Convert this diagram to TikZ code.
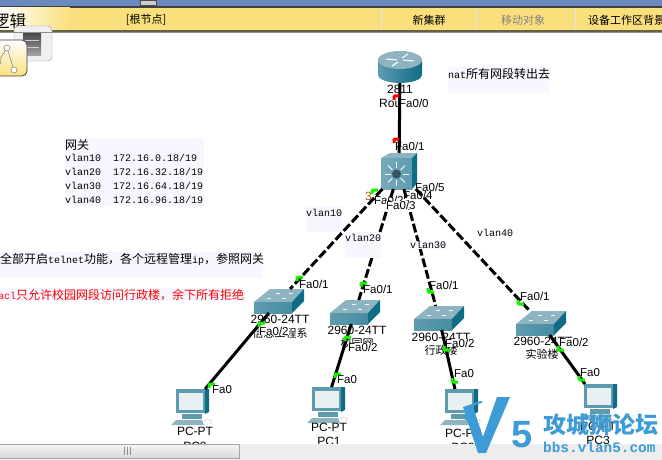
\documentclass[tikz,border=0pt]{standalone}
\usepackage{fontspec}
\setmainfont{Liberation Sans}
\setmonofont{Liberation Mono}
\newfontfamily\cjk{Noto Sans CJK SC}
\usetikzlibrary{arrows.meta,calc}
\definecolor{notebg}{HTML}{F7F8FF}
\definecolor{barblue}{HTML}{6A8ABF}
\definecolor{baryellow}{HTML}{FAE07C}
\definecolor{ciscotop}{HTML}{8DB4C0}
\definecolor{ciscofront}{HTML}{5F9BAF}
\definecolor{ciscoside}{HTML}{0F6C85}
\definecolor{markgreen}{HTML}{19F000}
\definecolor{wmblue}{HTML}{3D9BD6}
\tikzset{
  devbox/.style={inner sep=0,outer sep=0,minimum width=#1},
  note/.style={anchor=west,inner sep=0,font=\ttfamily\fontsize{10}{10}\selectfont},
  portlabel/.style={anchor=west,inner sep=0,font=\fontsize{11.5}{12}\selectfont},
  devlabel/.style={inner sep=0,font=\fontsize{12}{12}\selectfont},
  namelabel/.style={inner sep=0,font=\cjk\fontsize{11}{12}\selectfont},
  barlabel/.style={inner sep=0,font=\cjk\fontsize{11}{12}\selectfont},
  trunk/.style={line width=3pt,dash pattern=on 9pt off 3pt},
  access/.style={line width=3pt},
  portmark/.style={line width=3pt,rounded corners=1pt}
}
\newcommand{\zh}[1]{{\cjk\fontsize{12}{12}\selectfont #1}}
\newcommand{\qc}{\char"FF0C\relax}
\begin{document}
\begin{tikzpicture}[x=1pt,y=-1pt]
\clip (0,0) rectangle (662,460);
\fill[white] (0,0) rectangle (662,460);
% top bar
\fill[barblue] (0,0) rectangle (662,6);
\fill[black!75] (0,6) rectangle (662,8);
\fill[baryellow] (70,8) rectangle (662,31);
\shade[left color=white,right color=baryellow] (0,8) rectangle (70,31);
\fill[black!70!yellow] (0,30) rectangle (662,32);
\fill[black!45] (0,32) rectangle (662,33.5);
\draw[white!90!black,line width=1pt] (381,8)--(381,30) (476,8)--(476,30) (575,8)--(575,30);
\draw[black!70,fill=white!80!black] (140,0) rectangle (156,5);
\node[inner sep=0,anchor=west,font=\cjk\fontsize{16.5}{16}\selectfont] (title) at (-7,21) {逻辑};
\node[barlabel] (rootnode) at (146,20) {[根节点]};
\node[barlabel] (newcluster) at (429,20) {新集群};
\node[barlabel,text=black!50] (moveobj) at (523,20) {移动对象};
\node[barlabel,anchor=west] (background) at (588,20) {设备工作区背景};
% left icons
\draw[black!40,fill=black!6,rounded corners=4pt] (14,26) -- (52,26) -- (52,61) -- (14,61) -- cycle;
\fill[black!45] (14,32) rectangle (52,33.5);
\shade[top color=black!70,bottom color=black!35] (23,34) rectangle (41,56);
\draw[black!20] (25,40)--(39,40) (25,47)--(39,47);
\shade[draw=black!75,line width=.8pt,rounded corners=5pt,top color=white,bottom color=baryellow] (-8,40) rectangle (27,76);
\draw[black!60] (7,48)--(-2,62) (7,48)--(14,70);
\foreach \x/\y in {7/48,-2/62,14/70}
  \draw[black!60,fill=white] (\x,\y) circle (3);
% notes
\fill[notebg] (448,67) rectangle (549,93);
\node[note] (natnote) at (448,74) {nat\zh{所有网段转出去}};
\fill[notebg] (65,138) rectangle (204,206);
\node[note] (gwhead) at (65,145) {\zh{网关}};
\foreach \n/\a/\y in {10/0/158,20/32/172,30/64/186,40/96/200}
  \node[note] (gw\n) at (65,\y) {vlan\n\ \ 172.16.\a.18/19};
\fill[notebg] (0,252) rectangle (263,278);
\node[note] (telnetnote) at (0,259) {\zh{全部开启}telnet\zh{功能\qc 各个远程管理}ip\zh{\qc 参照网关}};
\fill[notebg] (0,288) rectangle (246,301);
\node[note,text=red] (aclnote) at (-2,295) {acl\zh{只允许校园网段访问行政楼\qc 余下所有拒绝}};
% router
\node[devbox=44pt,minimum height=30pt] (router) at (400,68) {};
\begin{scope}[shift={(400,68)}]
  \shade[left color=ciscofront,middle color=white!85!ciscotop,right color=ciscoside]
    (-22,-8) -- (-22,7) arc[start angle=180,end angle=360,x radius=22,y radius=-8] -- (22,-8) -- cycle;
  \fill[ciscotop] (0,-8) ellipse (22 and 9);
  \draw[white,line width=1pt] (-14,-9)--(-3,-8) (14,-7)--(3,-8) (-8,-2)--(-2,-6) (8,-14)--(2,-10);
\end{scope}
% core switch
\node[devbox=36pt,minimum height=36pt] (core) at (399,171) {};
\begin{scope}[shift={(399,171)}]
  \fill[ciscotop] (-18,-13) -- (-9,-18) -- (18,-18) -- (13,-13) -- cycle;
  \shade[left color=ciscofront!85!white,right color=ciscofront] (-18,-13) rectangle (13,18);
  \fill[ciscoside] (13,-13) -- (18,-18) -- (18,12) -- (13,18) -- cycle;
  \foreach \a in {0,45,...,315}
    \draw[white,line width=1pt] (-2.5,3)++(\a:6) -- ++(\a:6);
  \fill[ciscofront!55!black] (-2.5,3) circle (4.5);
\end{scope}
% access switches
\foreach \n/\x/\y in {sw0/279/301,sw1/355/312,sw2/439/318,sw3/541/323} {
  \node[devbox=50pt,minimum height=24pt] (\n) at (\x,\y) {};
  \begin{scope}[shift={(\x,\y)}]
    \fill[ciscotop] (-25,1) -- (-9,-12) -- (25,-12) -- (13,1) -- cycle;
    \shade[left color=ciscofront,right color=ciscofront!70!ciscoside] (-25,1) rectangle (13,12);
    \fill[ciscoside] (13,1) -- (25,-12) -- (25,0) -- (13,12) -- cycle;
    \draw[white!90!ciscotop,line width=1pt] (-12,-3)--(-8,-3) (-3,-8)--(1,-8) (3,-3)--(7,-3) (10,-8)--(14,-8);
  \end{scope}
}
% pcs
\foreach \n/\x/\y in {pc0/190/407,pc1/326/405,pc2/459/407,pc3/598/402} {
  \node[devbox=33pt,minimum height=36pt] (\n) at (\x,\y) {};
  \begin{scope}[shift={(\x,\y)}]
    \fill[ciscofront] (-14,-18) -- (17,-18) -- (17,6) -- (-14,6) -- cycle;
    \fill[ciscoside] (15,-18) -- (19,-18) -- (19,5) -- (15,7) -- cycle;
    \fill[white!80!ciscotop] (-11,-14) rectangle (13,3);
    \fill[ciscofront] (-8,7) rectangle (12,12);
    \fill[ciscotop] (-14,13) -- (12,13) -- (14,18) -- (-19,18) -- cycle;
    \draw[black!25] (14,14) .. controls (18,11) and (24,12) .. (20,17);
  \end{scope}
}
% device labels
\node[devlabel] (routermodel) at (400,89) {2811};
\node[devlabel,anchor=west] (routername) at (379,103) {Rou};
\node[devlabel,text=orange!70!black,anchor=west] (coremodel) at (365,196) {3};
\foreach \n/\x/\y in {sw0/280/319,sw1/357/330,sw2/441/337,sw3/543/341}
  \node[devlabel] (\n model) at (\x,\y) {2960-24TT};
\foreach \n/\x/\y in {pc0/195/431,pc1/329/427,pc2/463/433,pc3/598/426}
  \node[devlabel] (\n model) at (\x,\y) {PC-PT};
\node[namelabel] (sw0name) at (280,333) {信息工程系};
\node[namelabel] (sw1name) at (357,343) {校园网};
\node[namelabel] (sw2name) at (441,350) {行政楼};
\node[namelabel] (sw3name) at (542,354) {实验楼};
\node[devlabel] (pc0name) at (195,446) {PC0};
\node[devlabel] (pc1name) at (329,441) {PC1};
\node[devlabel] (pc2name) at (463,447) {PC2};
\node[devlabel] (pc3name) at (598,440) {PC3};
\foreach \x/\y in {259/331,348/347,445/343,559/342}
  \node[portlabel,fill=white] at (\x,\y) {Fa0/2};
% links
\draw[access] (router) -- (core);
\foreach \a in {0,1,2,3}
  \draw[trunk] (core) -- (sw\a);
\foreach \a in {0,1,2,3}
  \draw[access] (sw\a) -- (pc\a);
% link labels
\fill[notebg] (306,206) rectangle (342,232);
\fill[notebg] (345,232) rectangle (381,258);
\node[note] (vlan10) at (306,213) {vlan10};
\node[note] (vlan20) at (345,238) {vlan20};
\node[note,fill=notebg] (vlan30) at (410,245) {vlan30};
\node[note] (vlan40) at (477,233) {vlan40};
% port lights
\draw[portmark,red] (394,100)--(394,96)--(399,96);
\draw[portmark,red] (394,143)--(394,139)--(399,139);
\foreach \x/\y in {297/281,361/287,372/194,259/327,209/388,335/378,345/341}
  \draw[portmark,markgreen] (\x,\y)--(\x,\y-4)--(\x+6,\y-4);
\foreach \x/\y in {428/292,518/304,444/350,452/382,558/350,579/380}
  \draw[portmark,markgreen] (\x,\y-4)--(\x,\y)--(\x+6,\y);
% port labels
\foreach \p/\x/\y in {0/399/103,1/395/146,5/415/187,2/374/200,1/299/284,1/363/289,1/429/285,1/520/296}
  \node[portlabel] at (\x,\y) {Fa0/\p};
\node[portlabel,fill=white] (core3) at (386,205) {Fa0/3};
\node[portlabel] (core4) at (403,195) {Fa0/4};
\foreach \x/\y in {212/390,337/380,454/374,580/373}
  \node[portlabel] at (\x,\y) {Fa0};
% scrollbar
\fill[black!7] (0,444) rectangle (662,460);
\shade[draw=black!35,top color=black!4,bottom color=black!15] (-2,444) rectangle (239,458);
\draw[black!45] (124,447)--(124,455) (127,447)--(127,455) (130,447)--(130,455);
% watermark
\fill[wmblue] (463,407) -- (472,404) -- (483,437) -- (497,397) -- (510,397) -- (486,453) -- (478,453) -- cycle;
\draw[wmblue,line width=2pt] (466,420) .. controls (464,410) and (472,403) .. (482,402);
\node[inner sep=0,text=wmblue,font=\fontsize{38}{38}\selectfont\bfseries] (wm5) at (522,435) {5};
\node[inner sep=0,anchor=west,text=wmblue,font=\cjk\bfseries\fontsize{23}{23}\selectfont] (wmname) at (543,425) {攻城狮论坛};
\node[inner sep=0,anchor=west,text=wmblue,font=\ttfamily\bfseries\fontsize{14.4}{14.4}\selectfont] (wmurl) at (543,447) {bbs.vlan5.com};
\end{tikzpicture}
\end{document}
